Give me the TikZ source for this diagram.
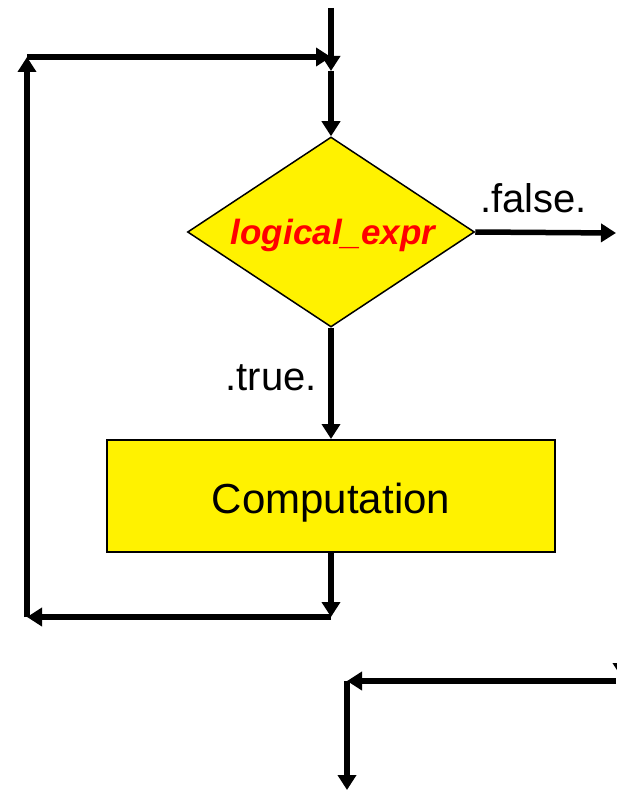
\documentclass[tikz,border=0pt]{standalone}
\usepackage{fontspec}
\setmainfont{Liberation Sans}
\usetikzlibrary{arrows.meta,shapes.geometric}
\tikzset{
  flow/.style={line width=5.5pt,-{Triangle[length=15pt,width=18pt]}},
  decision/.style={diamond,draw=black,line width=1.5pt,fill=yellow,
    minimum width=287pt,minimum height=190pt,aspect=1.51,inner sep=0pt},
  process/.style={rectangle,draw=black,line width=2pt,fill=yellow,
    minimum width=448pt,minimum height=112pt,inner sep=0pt},
  lbl/.style={inner sep=0pt,font=\fontsize{40}{48}\selectfont}
}
\begin{document}
\begin{tikzpicture}[x=1pt,y=-1pt]
\useasboundingbox (0,0) rectangle (616,791);

% decision and process boxes
\node[decision] (dia) at (331,232) {};
\node[inner sep=0pt,anchor=base,text=red,font=\fontsize{35}{42}\selectfont\bfseries\itshape]
  (cond) at (333,245) {logical\_expr};
\node[process] (comp) at (331,496) {};
\node[inner sep=0pt,anchor=base,font=\fontsize{42}{50}\selectfont]
  (comptxt) at (331,513) {Computation};

% loop corners and free ends
\coordinate (entry) at (331,8);
\coordinate (merge) at (331,71);
\coordinate (mergein) at (331,57);
\coordinate (tl) at (27,57);
\coordinate (bl) at (27,617);
\coordinate (br) at (331,617);
\coordinate (exit) at (616,233);

% entry and loop-back
\draw[flow] (entry) -- (merge);
\draw[flow] (tl) -- (mergein);
\draw[flow] (merge) -- (dia.north);
\draw[flow] (dia.south) -- (comp.north);
\draw[flow] (comp.south) -- (br);
\draw[flow] (br) -- (bl);
\draw[flow] (bl) -- (tl);

% false exit
\draw[flow] (dia.east) -- (exit);

% labels
\node[lbl,anchor=base west] (flbl) at (480,213) {.false.};
\node[lbl,anchor=base east] (tlbl) at (317,390) {.true.};

% continuation below
\coordinate (rin) at (616,681);
\coordinate (turn) at (347,681);
\coordinate (down) at (347,790);
\coordinate (rtop) at (622,630);
\coordinate (rtip) at (622,678);
\draw[flow] (rtop) -- (rtip);
\draw[flow] (rin) -- (turn);
\draw[flow] (turn) -- (down);
\end{tikzpicture}
\end{document}
